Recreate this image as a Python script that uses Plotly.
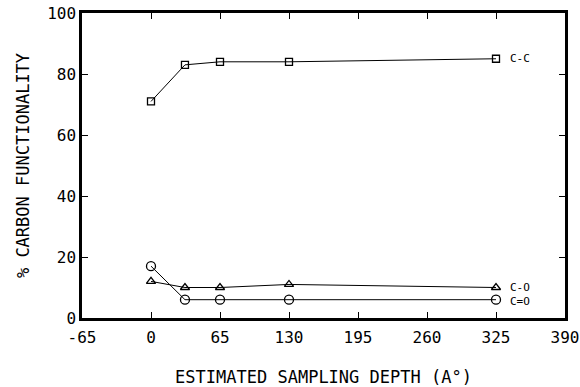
import plotly.graph_objects as go

depth = [0, 32, 65, 130, 325]
series_names = ["C-C", "C-O", "C=O"]
cc = [71, 83, 84, 84, 85]
co = [12, 10, 10, 11, 10]
c_eq_o = [17, 6, 6, 6, 6]
x_ticks = [-65, 0, 65, 130, 195, 260, 325, 390]
y_ticks = [0, 20, 40, 60, 80, 100]

font_family = "DejaVu Sans Mono"
fig = go.Figure()
symbols = ["square-open", "triangle-up-open", "circle-open"]
sizes = [7, 8, 9]
for name, vals, sym, sz in zip(series_names, [cc, co, c_eq_o], symbols, sizes):
    fig.add_trace(go.Scatter(
        x=depth, y=vals, mode="lines+markers", name=name,
        line=dict(color="black", width=1),
        marker=dict(symbol=sym, size=sz, color="black", line=dict(width=1.3, color="black")),
        showlegend=False,
    ))
    fig.add_annotation(x=depth[-1], y=vals[-1] - (0.6 if name == "C=O" else 0), text=name,
                       showarrow=False, xanchor="left", xshift=12,
                       font=dict(family=font_family, size=11, color="black"))

axis_common = dict(
    showgrid=False, zeroline=False, showline=True, linecolor="black", linewidth=2.5,
    mirror="ticks", ticks="inside", ticklen=6, tickwidth=1.2, tickcolor="black",
    tickfont=dict(family=font_family, size=16, color="black"), automargin=False,
)
fig.update_xaxes(range=[-65, 390], tickvals=x_ticks, ticktext=[str(t) for t in x_ticks],
                 ticklabelstandoff=3,
                 title=dict(text="ESTIMATED SAMPLING DEPTH (A°)", standoff=26,
                            font=dict(family=font_family, size=17, color="black")),
                 **axis_common)
fig.update_yaxes(range=[0, 100], tickvals=y_ticks,
                 title=dict(text="% CARBON FUNCTIONALITY", standoff=14,
                            font=dict(family=font_family, size=17, color="black")),
                 **axis_common)
fig.update_layout(
    width=580, height=387, margin=dict(l=82, r=15, t=13, b=69),
    paper_bgcolor="white", plot_bgcolor="white",
)
fig.write_html("out.html")
